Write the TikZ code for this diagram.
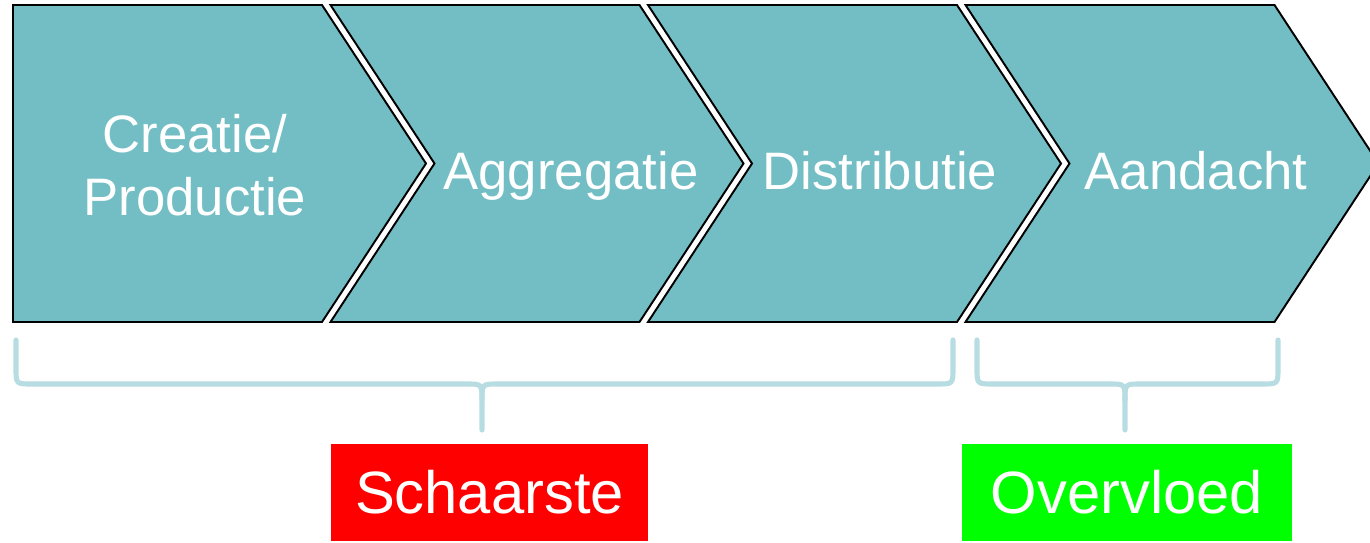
\documentclass[tikz,border=0pt]{standalone}
\usepackage{fontspec}
\setmainfont{Liberation Sans}
\usepackage{xcolor}
\definecolor{vcteal}{RGB}{114,190,196}
\definecolor{vcbrace}{RGB}{183,221,226}
\definecolor{vcred}{RGB}{255,0,0}
\definecolor{vcgreen}{RGB}{0,255,0}
\tikzstyle{chevron} = [draw=black, line width=1.1pt, fill=vcteal, line join=miter]
\tikzstyle{steptext} = [text=white, font=\fontsize{30}{36}\selectfont, align=center, inner sep=0pt]
\tikzstyle{bracket} = [draw=vcbrace, line width=2.9pt, line cap=round]
\tikzstyle{verdict} = [rectangle, minimum height=1.94cm, text=white, font=\fontsize{34}{40}\selectfont, inner sep=0pt]

\begin{document}
\begin{tikzpicture}[x=0.02cm, y=-0.02cm]
\useasboundingbox (0,0) rectangle (1370,543);

% Value chain
\path[chevron] (13,5) -- (322,5) -- (426,163.5) -- (322,322) -- (13,322) -- cycle;
\path[chevron] (330.5,5) -- (639.5,5) -- (743.5,163.5) -- (639.5,322) -- (330.5,322) -- (434.5,163.5) -- cycle;
\path[chevron] (648,5) -- (957,5) -- (1061,163.5) -- (957,322) -- (648,322) -- (752,163.5) -- cycle;
\path[chevron] (965.5,5) -- (1274.5,5) -- (1378.5,163.5) -- (1274.5,322) -- (965.5,322) -- (1069.5,163.5) -- cycle;

% Step labels
\node[steptext] at (195,165) (creatie) {Creatie/\\Productie};
\node[steptext, anchor=base] at (571,190) (aggregatie) {Aggregatie};
\node[steptext, anchor=base] at (880,190) (distributie) {Distributie};
\node[steptext, anchor=base] at (1196,190) (aandacht) {Aandacht};

% Braces
\coordinate (scarcetip) at (482,430);
\coordinate (plentytip) at (1125,430);
\path[bracket] (16,340) -- (16,368) .. controls (16,384) .. (32,384) -- (466,384) .. controls (482,384) .. (482,400) -- (scarcetip);
\path[bracket] (482,400) .. controls (482,384) .. (498,384) -- (937,384) .. controls (953,384) .. (953,368) -- (953,340);
\path[bracket] (977,340) -- (977,368) .. controls (977,384) .. (993,384) -- (1109,384) .. controls (1125,384) .. (1125,400) -- (plentytip);
\path[bracket] (1125,400) .. controls (1125,384) .. (1141,384) -- (1262,384) .. controls (1278,384) .. (1278,368) -- (1278,340);

% Outcome boxes
\node[verdict, fill=vcred, minimum width=6.34cm] at (489.5,492.5) (schaarste) {Schaarste};
\node[verdict, fill=vcgreen, minimum width=6.6cm] at (1127,492.5) (overvloed) {Overvloed};
\end{tikzpicture}
\end{document}
